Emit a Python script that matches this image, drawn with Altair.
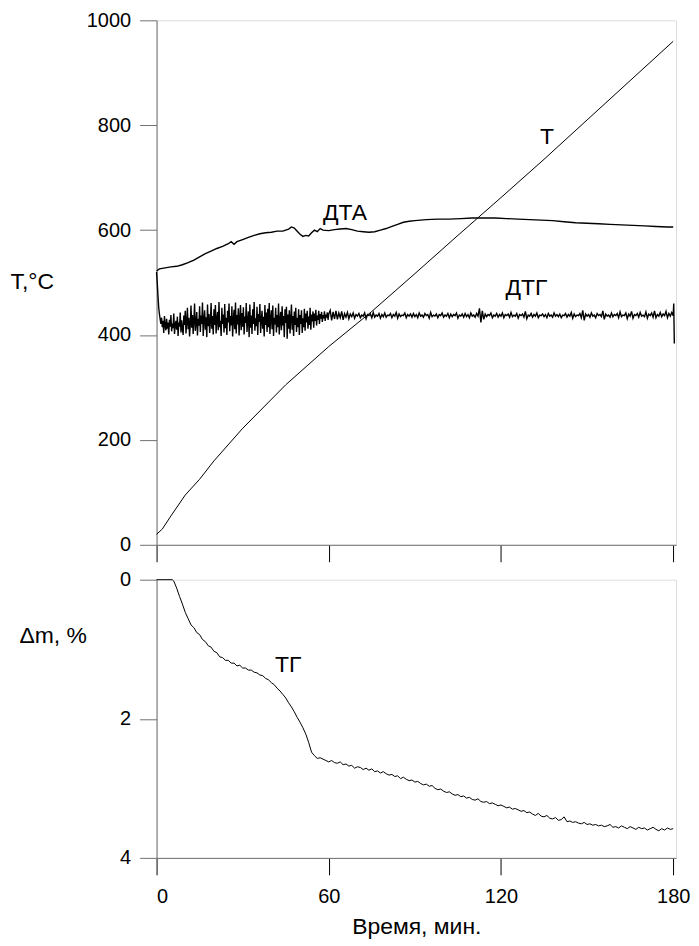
import altair as alt
import pandas as pd

FONT = "Liberation Sans"
GRAY = "#707070"

# ---- top panel data ----
t_time = [0, 2, 5, 10, 15, 20, 30, 45, 60, 75, 90, 105, 120, 135, 150, 165, 180]
t_vals = [20, 30, 55, 95, 125, 160, 222, 305, 378, 445, 517, 590, 662, 735, 810, 885, 960]

dta_time = [0, 1, 3, 5, 7, 9, 11, 13, 15, 17, 19, 21, 23, 25, 26, 27, 28, 30, 32, 34, 36, 38,
            40, 42, 44, 46, 47, 48, 49, 50, 51, 52, 53, 54, 55, 56, 57, 58, 60, 62, 64, 66,
            68, 70, 72, 74, 76, 78, 80, 82, 84, 86, 88, 90, 94, 98, 102, 106, 110, 114, 118,
            122, 126, 130, 134, 138, 142, 146, 150, 154, 158, 162, 166, 170, 174, 178, 180]
dta_vals = [522, 526, 528, 530, 531, 534, 538, 543, 549, 555, 560, 565, 569, 574, 578, 573,
            578, 582, 586, 590, 593, 595, 596, 598, 598, 602, 606, 604, 598, 592, 588, 590,
            589, 595, 600, 597, 603, 600, 599, 601, 602, 603, 601, 598, 597, 596, 597, 600,
            603, 607, 611, 615, 617, 618, 620, 621, 621, 622, 623, 623, 623, 622, 621, 620,
            619, 618, 616, 614, 613, 612, 611, 610, 609, 608, 607, 606, 606]

# DTG, 0..60 min, one reading every 0.25 min
dtg_early = [
    520, 498, 474, 452, 440, 430, 421, 433, 415, 427, 404, 436, 418, 409, 431, 412, 424, 401, 429, 416,
    438, 407, 422, 413, 441, 402, 419, 427, 410, 435, 398, 424, 416, 443, 405, 428, 412, 400, 437, 419,
    446, 403, 425, 452, 411, 433, 397, 420, 456, 414, 438, 402, 429, 460, 408, 423, 444, 399, 431, 418,
    455, 406, 437, 421, 462, 398, 428, 447, 410, 434, 396, 458, 417, 440, 404, 426, 461, 412, 436, 401,
    449, 419, 457, 403, 431, 444, 409, 463, 415, 427, 398, 452, 421, 439, 405, 459, 413, 433, 400, 446,
    424, 460, 407, 436, 418, 455, 397, 429, 448, 411, 462, 403, 438, 420, 451, 399, 430, 457, 409, 442,
    416, 453, 401, 435, 423, 461, 406, 427, 445, 396, 458, 414, 437, 402, 449, 421, 463, 408, 432, 417,
    454, 400, 440, 425, 459, 404, 428, 446, 412, 435, 397, 457, 419, 443, 406, 450, 415, 461, 402, 431,
    447, 411, 456, 398, 433, 420, 452, 405, 438, 415, 460, 401, 429, 444, 409, 455, 418, 436, 396, 449,
    423, 454, 393, 439, 412, 447, 403, 431, 458, 410, 436, 398, 445, 419, 452, 406, 433, 415, 449, 400,
    438, 421, 447, 404, 432, 415, 450, 408, 441, 424, 446, 412, 435, 419, 452, 410, 439, 426, 445, 414,
    441, 427, 448, 418, 437, 429, 446, 421, 440, 431, 444, 425, 438, 432, 445, 427, 439, 433, 443, 429,
    440]
# DTG, 60.5..180 min, one reading every 0.5 min
dtg_late = [
    447, 428, 444, 431, 446, 430, 442, 433, 445, 429, 441, 434, 443, 431, 440, 435, 442, 432, 439, 436,
    441, 433, 438, 436, 442, 431, 439, 437, 440, 433, 443, 434, 438, 436, 441, 432, 439, 435, 442, 434,
    438, 437, 441, 433, 439, 436, 443, 432, 440, 435, 438, 437, 442, 433, 439, 436, 440, 434, 441, 435,
    439, 433, 442, 436, 438, 434, 441, 437, 439, 432, 443, 435, 438, 436, 440, 433, 439, 437, 442, 434,
    438, 436, 441, 433, 440, 435, 439, 437, 442, 432, 438, 436, 440, 434, 441, 435, 439, 433, 442, 436,
    438, 434, 441, 436, 451, 424, 446, 430, 440, 435, 439, 437, 442, 433, 438, 436, 441, 434, 439, 436,
    442, 433, 439, 437, 440, 434, 443, 435, 438, 436, 441, 432, 439, 437, 440, 434, 445, 431, 438, 436,
    441, 434, 439, 436, 442, 433, 438, 437, 440, 435, 439, 433, 441, 436, 438, 434, 442, 436, 439, 435,
    440, 433, 438, 437, 441, 434, 439, 436, 443, 432, 440, 435, 438, 437, 441, 433, 447, 428, 440, 436,
    439, 434, 442, 436, 438, 433, 441, 437, 439, 435, 446, 430, 440, 436, 438, 434, 442, 435, 439, 437,
    441, 433, 444, 435, 438, 437, 442, 431, 440, 436, 445, 432, 439, 437, 441, 434, 443, 436, 438, 435,
    444, 432, 440, 437, 442, 434, 446, 433, 439, 436, 443, 435, 440, 437, 445, 433, 441, 436, 443, 437]
dtg_tail_time = [180.2, 180.4]
dtg_tail_vals = [460, 384]

# ---- bottom panel data (TG, mass loss %) ----
tg_time_early = [0, 5.5, 6, 7, 8, 9, 10, 11, 12, 13, 14, 15, 16, 17, 18, 19, 20, 21, 22, 23,
                 24, 25, 26, 27, 28, 29, 30, 31, 32, 33, 34, 35, 36, 37, 38, 39, 40, 41, 42,
                 43, 44, 45, 46, 47, 48, 49, 50, 51, 52, 53, 54]
tg_vals_early = [0, 0, 0.02, 0.12, 0.24, 0.35, 0.47, 0.56, 0.65, 0.69, 0.76, 0.79, 0.86, 0.89,
                 0.95, 0.97, 1.03, 1.05, 1.11, 1.12, 1.16, 1.16, 1.20, 1.20, 1.24, 1.23, 1.27,
                 1.27, 1.30, 1.30, 1.33, 1.34, 1.37, 1.38, 1.42, 1.44, 1.48, 1.51, 1.56, 1.60,
                 1.65, 1.70, 1.77, 1.83, 1.90, 1.98, 2.05, 2.13, 2.22, 2.34, 2.48]
# 55..180 min, one reading per minute
tg_vals_late = [
    2.53, 2.57, 2.56, 2.58, 2.60, 2.62, 2.60, 2.63, 2.64, 2.62,
    2.66, 2.65, 2.68, 2.67, 2.71, 2.69, 2.70, 2.73, 2.71, 2.74,
    2.72, 2.76, 2.75, 2.78, 2.76, 2.79, 2.81, 2.80, 2.83, 2.82,
    2.86, 2.84, 2.87, 2.89, 2.88, 2.91, 2.90, 2.93, 2.95, 2.94,
    2.97, 2.96, 3.00, 3.02, 3.01, 3.04, 3.06, 3.05, 3.08, 3.10,
    3.09, 3.12, 3.11, 3.14, 3.13, 3.16, 3.17, 3.15, 3.19, 3.20,
    3.19, 3.22, 3.21, 3.23, 3.25, 3.24, 3.26, 3.28, 3.27, 3.30,
    3.29, 3.31, 3.33, 3.32, 3.35, 3.34, 3.37, 3.39, 3.36, 3.40,
    3.41, 3.39, 3.43, 3.44, 3.42, 3.46, 3.45, 3.41, 3.48, 3.47,
    3.49, 3.48, 3.50, 3.51, 3.49, 3.52, 3.51, 3.53, 3.52, 3.54,
    3.53, 3.55, 3.54, 3.52, 3.56, 3.55, 3.57, 3.54, 3.56, 3.58,
    3.55, 3.57, 3.59, 3.56, 3.58, 3.57, 3.60, 3.58, 3.56, 3.59,
    3.61, 3.58, 3.60, 3.57, 3.59, 3.58]

# ---- in-plot labels ----
top_labels = ["T", "ДТА", "ДТГ"]
top_label_x = [136, 65.7, 128.9]
top_label_y = [777, 633, 490]
bot_labels = ["ТГ"]
bot_label_x = [45.9]
bot_label_y = [1.23]

X_TICKS = [0, 60, 120, 180]

# ---- build tables ----
df_t = pd.DataFrame({"x": t_time, "y": t_vals})
df_dta = pd.DataFrame({"x": dta_time, "y": dta_vals})
dtg_time = [i * 0.25 for i in range(len(dtg_early))] + \
           [60.5 + i * 0.5 for i in range(len(dtg_late))] + dtg_tail_time
df_dtg = pd.DataFrame({"x": dtg_time, "y": dtg_early + dtg_late + dtg_tail_vals})
tg_time = tg_time_early + [55 + i for i in range(len(tg_vals_late))]
df_tg = pd.DataFrame({"x": tg_time, "y": tg_vals_early + tg_vals_late})
df_top_lab = pd.DataFrame({"x": top_label_x, "y": top_label_y, "t": top_labels})
df_bot_lab = pd.DataFrame({"x": bot_label_x, "y": bot_label_y, "t": bot_labels})

W = 521
x_scale = alt.Scale(domain=[0, 181], nice=False, zero=False)
y_top_scale = alt.Scale(domain=[0, 1000], nice=False)
y_bot_scale = alt.Scale(domain=[0, 4], nice=False, reverse=True)

x_axis_top = alt.Axis(values=X_TICKS, tickSize=17, tickColor="black", domainColor=GRAY,
                      labels=False, title=None, grid=False)
x_axis_bot = alt.Axis(values=X_TICKS, format="d", tickSize=17, tickColor="black",
                      domainColor=GRAY, labelFont=FONT, labelFontSize=20, labelColor="black",
                      labelPadding=12, grid=False, title="Время, мин.", titleFont=FONT,
                      titleFontSize=23, titleFontWeight="normal", titleColor="black",
                      titlePadding=9)
y_axis_top = alt.Axis(values=[0, 200, 400, 600, 800, 1000], format="d", tickSize=17,
                      tickColor=GRAY, domainColor=GRAY, labelFont=FONT, labelFontSize=20,
                      labelColor="black", labelPadding=9, grid=False, title="T,°C",
                      titleFont=FONT, titleFontSize=23, titleFontWeight="normal",
                      titleColor="black", titleAngle=0, titleAlign="left",
                      titleBaseline="middle", titleX=-147, titleY=262)
y_axis_bot = alt.Axis(values=[0, 2, 4], format="d", tickSize=17, tickColor=GRAY,
                      domainColor=GRAY, labelFont=FONT, labelFontSize=20, labelColor="black",
                      labelPadding=9, grid=False, title="Δm, %", titleFont=FONT,
                      titleFontSize=23, titleFontWeight="normal", titleColor="black",
                      titleAngle=0, titleAlign="left", titleBaseline="middle",
                      titleX=-138, titleY=56)


def line(df, width, x_axis, y_scale, y_axis):
    return alt.Chart(df).mark_line(color="black", strokeWidth=width).encode(
        x=alt.X("x:Q", scale=x_scale, axis=x_axis),
        y=alt.Y("y:Q", scale=y_scale, axis=y_axis),
    )


def labels(df, y_scale):
    return alt.Chart(df).mark_text(font=FONT, fontSize=23, color="black",
                                   baseline="middle", align="center").encode(
        x=alt.X("x:Q", scale=x_scale),
        y=alt.Y("y:Q", scale=y_scale),
        text="t:N",
    )


top = alt.layer(
    line(df_t, 1, x_axis_top, y_top_scale, y_axis_top),
    line(df_dta, 1.4, x_axis_top, y_top_scale, y_axis_top),
    line(df_dtg, 1.4, x_axis_top, y_top_scale, y_axis_top),
    labels(df_top_lab, y_top_scale),
).properties(width=W, height=526)

bottom = alt.layer(
    line(df_tg, 1, x_axis_bot, y_bot_scale, y_axis_bot),
    labels(df_bot_lab, y_bot_scale),
).properties(width=W, height=279)

chart = alt.vconcat(top, bottom, spacing=35, bounds="flush").properties(
    padding={"left": 1, "top": 0, "right": 0, "bottom": 0}
).configure_view(stroke=GRAY, strokeWidth=1.5).configure(background="white")

chart.save("out.html", embed_options={"renderer": "svg", "actions": False})
